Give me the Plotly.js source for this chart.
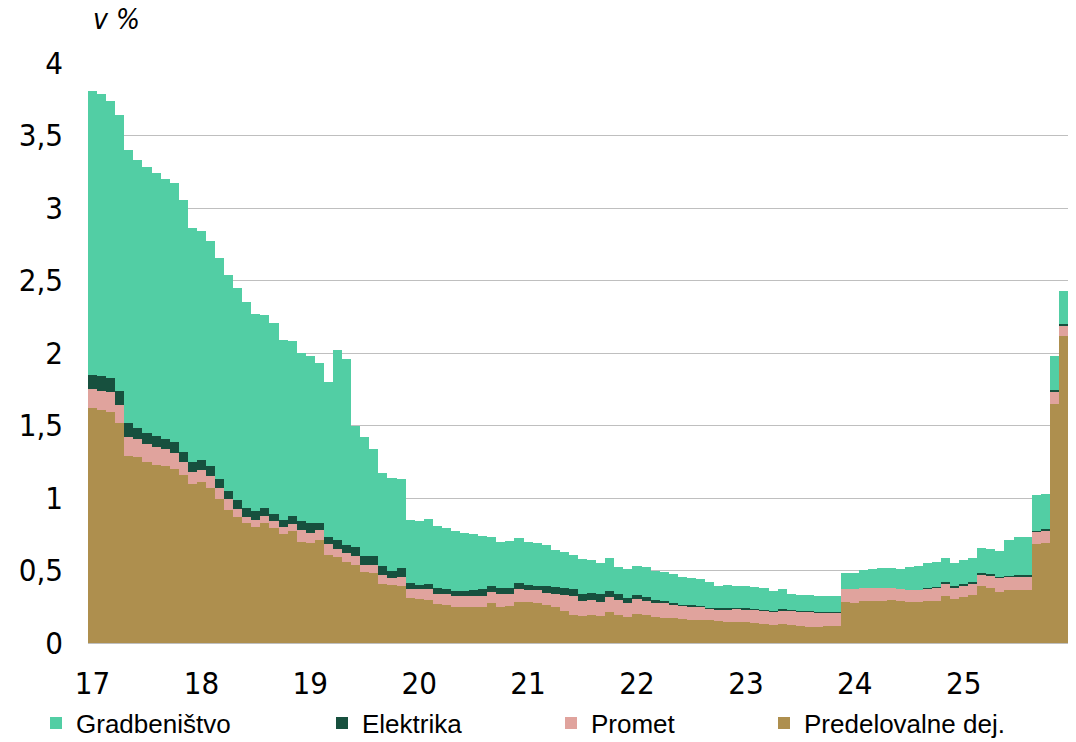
<!DOCTYPE html>
<html>
<head>
<meta charset="utf-8">
<script src="https://cdn.plot.ly/plotly-3.0.1.min.js"></script>
<style>html,body{margin:0;padding:0;background:#fff;}</style>
</head>
<body>
<div id="chart" style="width:1076px;height:742px;"></div>
<script>
// Monthly categories, Jan 2017 - Dec 2025
const startYear = 2017;
const monthCount = 108;
const months = [];
for (let i = 0; i < monthCount; i++) {
  const y = startYear + Math.floor(i / 12);
  const m = (i % 12) + 1;
  months.push(y + '-' + String(m).padStart(2, '0'));
}
const yearTickMonths = ['2017-01','2018-01','2019-01','2020-01','2021-01','2022-01','2023-01','2024-01','2025-01'];
const yearTickLabels = ['17','18','19','20','21','22','23','24','25'];
const yTickVals = [0, 0.5, 1, 1.5, 2, 2.5, 3, 3.5, 4];
const yTickLabels = ['0','0,5','1','1,5','2','2,5','3','3,5','4'];

const seriesNames = ['Gradbeništvo','Elektrika','Promet','Predelovalne dej.'];

const predelovalne = [1.62,1.61,1.59,1.52,1.29,1.28,1.25,1.23,1.22,1.20,
  1.16,1.10,1.11,1.07,0.99,0.92,0.87,0.83,0.80,0.83,
  0.79,0.75,0.77,0.70,0.69,0.71,0.61,0.59,0.56,0.54,
  0.49,0.48,0.41,0.40,0.395,0.308,0.301,0.299,0.267,0.264,
  0.251,0.248,0.248,0.248,0.274,0.251,0.258,0.285,0.28,0.278,
  0.262,0.251,0.221,0.195,0.186,0.192,0.186,0.216,0.193,0.179,
  0.20,0.193,0.177,0.172,0.172,0.166,0.161,0.159,0.159,0.154,
  0.147,0.145,0.143,0.138,0.131,0.127,0.129,0.124,0.117,0.113,
  0.113,0.115,0.12,0.285,0.278,0.29,0.292,0.292,0.297,0.292,
  0.285,0.281,0.29,0.292,0.322,0.301,0.315,0.333,0.395,0.381,
  0.354,0.366,0.366,0.368,0.68,0.69,1.647,2.115];

const promet = [0.13,0.13,0.14,0.12,0.13,0.13,0.12,0.12,0.12,0.11,
  0.085,0.08,0.08,0.08,0.08,0.07,0.055,0.04,0.05,0.045,
  0.05,0.05,0.05,0.08,0.07,0.07,0.07,0.06,0.06,0.06,
  0.05,0.06,0.06,0.05,0.062,0.067,0.069,0.076,0.073,0.074,
  0.073,0.076,0.076,0.076,0.076,0.085,0.08,0.09,0.088,0.088,
  0.085,0.085,0.11,0.131,0.102,0.102,0.098,0.099,0.104,0.099,
  0.103,0.099,0.101,0.102,0.095,0.094,0.094,0.091,0.078,0.078,
  0.087,0.092,0.091,0.09,0.09,0.089,0.096,0.099,0.099,0.101,
  0.094,0.092,0.089,0.087,0.094,0.089,0.087,0.089,0.082,0.078,
  0.083,0.082,0.084,0.089,0.089,0.082,0.083,0.076,0.079,0.084,
  0.097,0.092,0.096,0.094,0.086,0.087,0.085,0.075];

const elektrika = [0.10,0.10,0.10,0.10,0.10,0.075,0.08,0.08,0.07,0.075,
  0.075,0.07,0.07,0.07,0.06,0.06,0.06,0.06,0.06,0.055,
  0.05,0.05,0.055,0.06,0.07,0.05,0.05,0.06,0.055,0.06,
  0.06,0.06,0.06,0.05,0.058,0.039,0.032,0.034,0.04,0.034,
  0.032,0.035,0.044,0.046,0.043,0.041,0.044,0.039,0.03,0.027,
  0.046,0.05,0.046,0.049,0.048,0.049,0.051,0.044,0.041,0.032,
  0.028,0.028,0.019,0.016,0.011,0.004,0.005,0.005,0.007,0.007,
  0.005,0.004,0.005,0.004,0.007,0.007,0.007,0.005,0.005,0.004,
  0.009,0.004,0.002,0,0,0,0,0,0,0,
  0,0,0.007,0.007,0.007,0.01,0.007,0.009,0.009,0.009,
  0.007,0.006,0.007,0.007,0.007,0.007,0.011,0.01];

const gradbenistvo = [1.96,1.945,1.91,1.90,1.88,1.845,1.83,1.81,1.79,1.785,
  1.735,1.61,1.58,1.55,1.525,1.49,1.465,1.42,1.36,1.33,
  1.32,1.24,1.205,1.16,1.15,1.10,1.07,1.31,1.285,0.84,
  0.82,0.74,0.64,0.64,0.615,0.434,0.441,0.444,0.43,0.418,
  0.414,0.401,0.384,0.366,0.337,0.323,0.324,0.313,0.302,0.299,
  0.283,0.254,0.248,0.235,0.242,0.227,0.215,0.225,0.188,0.198,
  0.202,0.202,0.20,0.197,0.195,0.189,0.19,0.184,0.176,0.156,
  0.159,0.149,0.156,0.152,0.149,0.133,0.138,0.112,0.108,0.113,
  0.106,0.111,0.113,0.111,0.111,0.127,0.134,0.139,0.141,0.141,
  0.156,0.17,0.173,0.171,0.168,0.161,0.167,0.17,0.17,0.172,
  0.174,0.246,0.26,0.26,0.247,0.246,0.234,0.23];

const colors = {
  grad: '#52CEA4',
  elek: '#17503E',
  prom: '#E0A39D',
  pred: '#AE8F4E'
};

function barTrace(name, values, color, legendId) {
  return {
    type: 'bar', name: name, x: months, y: values,
    marker: {color: color, line: {width: 0}},
    legend: legendId,
    hoverinfo: 'x+y+name'
  };
}

const traces = [
  barTrace(seriesNames[3], predelovalne, colors.pred, 'legend4'),
  barTrace(seriesNames[2], promet, colors.prom, 'legend3'),
  barTrace(seriesNames[1], elektrika, colors.elek, 'legend2'),
  barTrace(seriesNames[0], gradbenistvo, colors.grad, 'legend')
];

const legendFont = {family: 'Liberation Sans, Arial, sans-serif', size: 26, color: '#000'};
function legendAt(px) {
  return {
    orientation: 'h', xref: 'container', yref: 'container',
    x: px / 1076, y: (742 - 723) / 742, xanchor: 'left', yanchor: 'middle',
    bgcolor: 'rgba(0,0,0,0)', borderwidth: 0, font: legendFont,
    itemclick: false, itemdoubleclick: false
  };
}

const tickFont = {family: 'Liberation Sans Narrow, Arial Narrow, DejaVu Sans Condensed, sans-serif', size: 31, color: '#000'};

const layout = {
  width: 1076, height: 742,
  margin: {l: 88, r: 8, t: 63, b: 99, pad: 0},
  paper_bgcolor: '#fff', plot_bgcolor: '#fff',
  barmode: 'stack', bargap: 0,
  separators: ',.',
  showlegend: true,
  legend: legendAt(36),
  legend2: legendAt(322),
  legend3: legendAt(551),
  legend4: legendAt(764),
  xaxis: {
    type: 'category', range: [-0.5, monthCount - 0.5],
    tickmode: 'array', tickvals: yearTickMonths, ticktext: yearTickLabels,
    ticks: '', showgrid: false, zeroline: false,
    showline: true, linecolor: '#BFBFBF', linewidth: 1,
    tickfont: tickFont, ticklabelstandoff: 13
  },
  yaxis: {
    range: [0, 4], tickmode: 'array', tickvals: yTickVals, ticktext: yTickLabels,
    ticks: '', showgrid: true, gridcolor: '#BFBFBF', gridwidth: 1,
    zeroline: false, showline: false,
    tickfont: tickFont, ticklabelstandoff: 24
  },
  annotations: [{
    xref: 'paper', yref: 'paper', x: 0.003, y: (643 - 19) / 580,
    xanchor: 'left', yanchor: 'middle', showarrow: false,
    text: '<i>v %</i>',
    font: {family: 'Liberation Sans Narrow, Arial Narrow, DejaVu Sans Condensed, sans-serif', size: 28, color: '#000'}
  }]
};

Plotly.newPlot('chart', traces, layout, {displayModeBar: false, staticPlot: false});
</script>
</body>
</html>
